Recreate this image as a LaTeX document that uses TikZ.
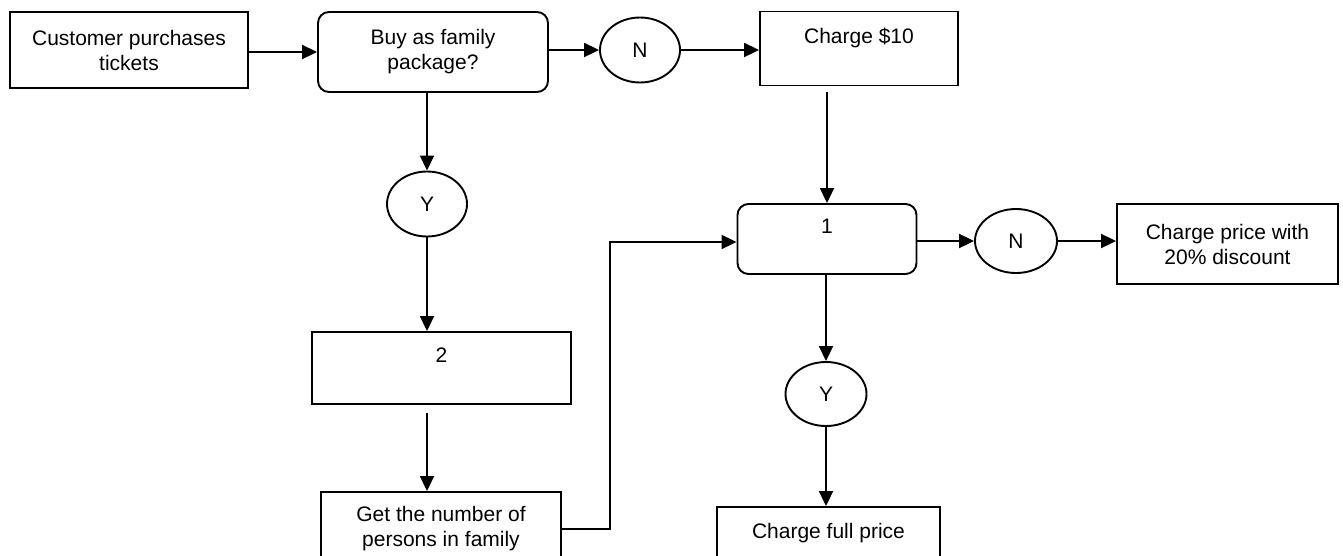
\documentclass[tikz,border=0pt]{standalone}
\usepackage{fontspec}
\setmainfont{Liberation Sans}
\usetikzlibrary{arrows.meta,shapes.geometric}
\begin{document}
\begin{tikzpicture}[x=1pt,y=-1pt,
  every node/.style={font=\fontsize{21pt}{25pt}\selectfont, align=center, inner sep=0pt},
  procbox/.style={draw, line width=1.9pt, rectangle},
  roundbox/.style={draw, line width=1.9pt, rectangle, rounded corners=11pt},
  answer/.style={draw, line width=1.9pt, ellipse},
  arr/.style={line width=1.9pt, -{Triangle[length=15pt,width=14pt]}}
]
\useasboundingbox (0,0) rectangle (1343,555);

\node[procbox, minimum width=238pt, minimum height=76pt] (A) at (129,50) {Customer purchases\\tickets};
\node[roundbox, minimum width=230pt, minimum height=80pt] (B) at (433,52) {Buy as family\\package?};
\node[answer, minimum width=80pt, minimum height=65pt] (N1) at (640,50) {N};
\node[procbox, minimum width=198pt, minimum height=74pt] (C10) at (859,48.5) {Charge \$10\\~};
\node[answer, minimum width=80pt, minimum height=65pt] (Y1) at (427,204) {Y};
\node[roundbox, minimum width=179pt, minimum height=70pt] (One) at (827,239) {1\\~};
\node[answer, minimum width=82pt, minimum height=64pt] (N2) at (1016,241) {N};
\node[procbox, minimum width=221pt, minimum height=80pt] (CP) at (1227.5,244) {Charge price with\\20\% discount};
\node[procbox, minimum width=259pt, minimum height=72pt] (Two) at (441.5,368) {2\\~};
\node[procbox, minimum width=240pt, minimum height=74pt] (Get) at (441,529) {Get the number of\\persons in family};
\node[answer, minimum width=81pt, minimum height=64pt] (Y2) at (826,394) {Y};
\node[procbox, minimum width=223pt, minimum height=72pt] (Full) at (828.5,543) {Charge full price\\~};

\coordinate (k) at (610,242);

\draw[arr] (A.east |- B) -- (B.west);
\draw[arr] (B.east |- N1) -- (N1.west);
\draw[arr] (N1.east) -- (N1.east -| C10.west);
\draw[arr, shorten <=6pt] (C10.south -| One.north) -- (One.north);
\draw[arr] (B.south -| Y1.north) -- (Y1.north);
\draw[arr] (Y1.south) -- (Y1.south |- Two.north);
\draw[arr, shorten <=8pt] (Two.south -| Y1) -- (Y1 |- Get.north);
\draw[arr] (Get.east) -| (k) -- (One.west |- k);
\draw[arr] (One.east |- N2) -- (N2.west);
\draw[arr] (N2.east) -- (N2.east -| CP.west);
\draw[arr] (One.south -| Y2) -- (Y2.north);
\draw[arr] (Y2.south) -- (Y2.south |- Full.north);
\end{tikzpicture}
\end{document}
